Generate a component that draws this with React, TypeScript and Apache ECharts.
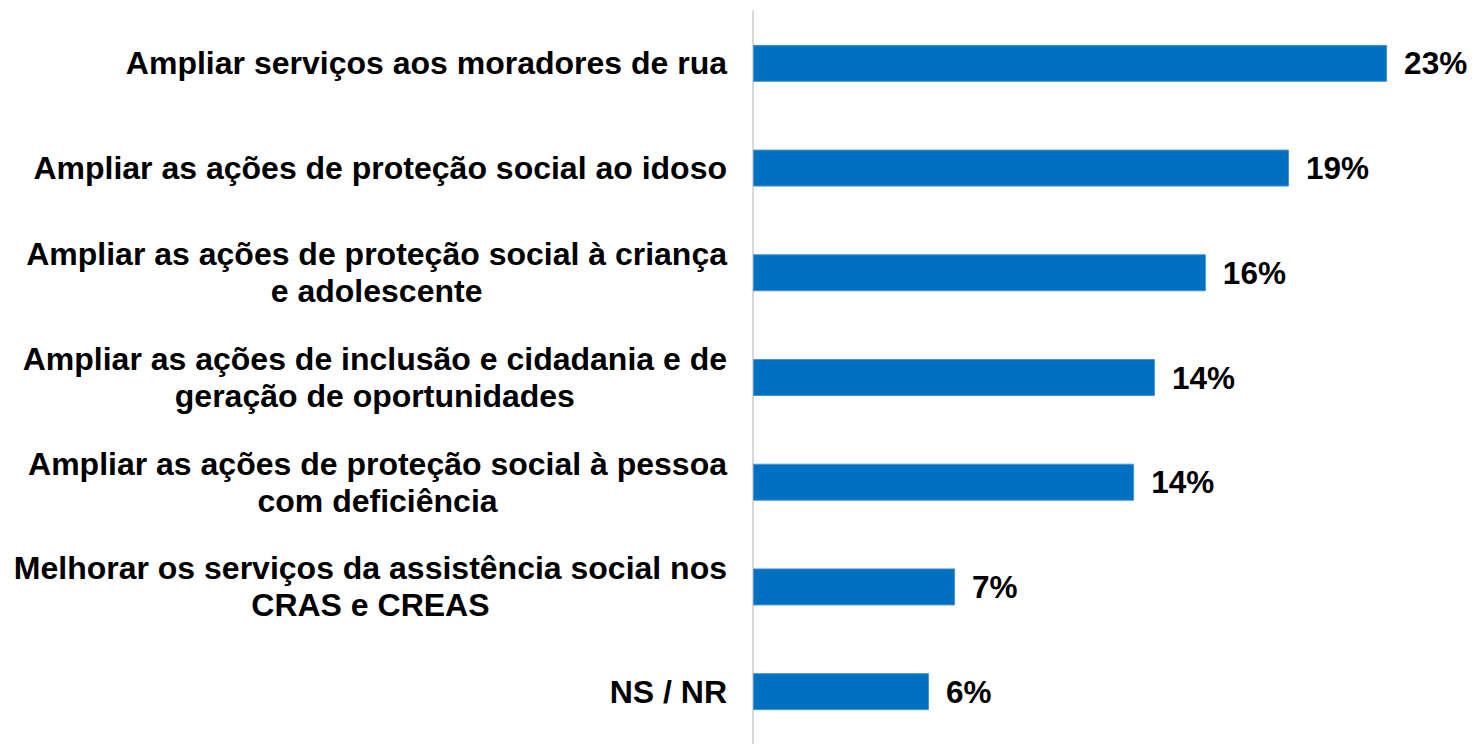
import React, { useEffect, useRef } from "react";
import * as echarts from "echarts";

const categories = [
  "Ampliar serviços aos moradores de rua",
  "Ampliar as ações de proteção social ao idoso",
  "Ampliar as ações de proteção social à criança\ne adolescente",
  "Ampliar as ações de inclusão e cidadania e de\ngeração de oportunidades",
  "Ampliar as ações de proteção social à pessoa\ncom deficiência",
  "Melhorar os serviços da assistência social nos\nCRAS e CREAS",
  "NS / NR",
];
const values = [22.81, 19.28, 16.29, 14.46, 13.71, 7.27, 6.33];

export default function App() {
  const ref = useRef<HTMLDivElement>(null);
  useEffect(() => {
    document.body.style.margin = "0";
    const chart = echarts.init(ref.current!, null, { renderer: "svg" });
    chart.setOption({
      animation: false,
      backgroundColor: "#ffffff",
      textStyle: { fontFamily: "Liberation Sans, Arial, sans-serif" },
      grid: { left: 753, top: 11, height: 738, right: 24, containLabel: false },
      xAxis: {
        type: "value",
        min: 0,
        max: 25,
        show: false,
      },
      yAxis: {
        type: "category",
        inverse: true,
        data: categories,
        axisLine: { show: true, lineStyle: { color: "#d9d9d9", width: 2 } },
        axisTick: { show: false },
        axisLabel: {
          margin: 26,
          align: "right",
          formatter: (v: string) => "{c|" + v + "}",
          rich: {
            c: {
              align: "center",
              fontSize: 32,
              fontWeight: "bold",
              color: "#000000",
              lineHeight: 37,
              fontFamily: "Liberation Sans, Arial, sans-serif",
            },
          },
        },
      },
      series: [
        {
          type: "bar",
          data: values,
          barWidth: 37,
          itemStyle: { color: "#0070C0", borderColor: "#4a94d4", borderWidth: 1 },
          label: {
            show: true,
            position: "right",
            distance: 17,
            formatter: (p: any) => Math.round(p.value) + "%",
            fontSize: 31.5,
            fontWeight: "bold",
            color: "#000000",
            fontFamily: "Liberation Sans, Arial, sans-serif",
          },
        },
      ],
    });
    return () => chart.dispose();
  }, []);
  return <div ref={ref} style={{ width: 1472, height: 744 }} />;
}
